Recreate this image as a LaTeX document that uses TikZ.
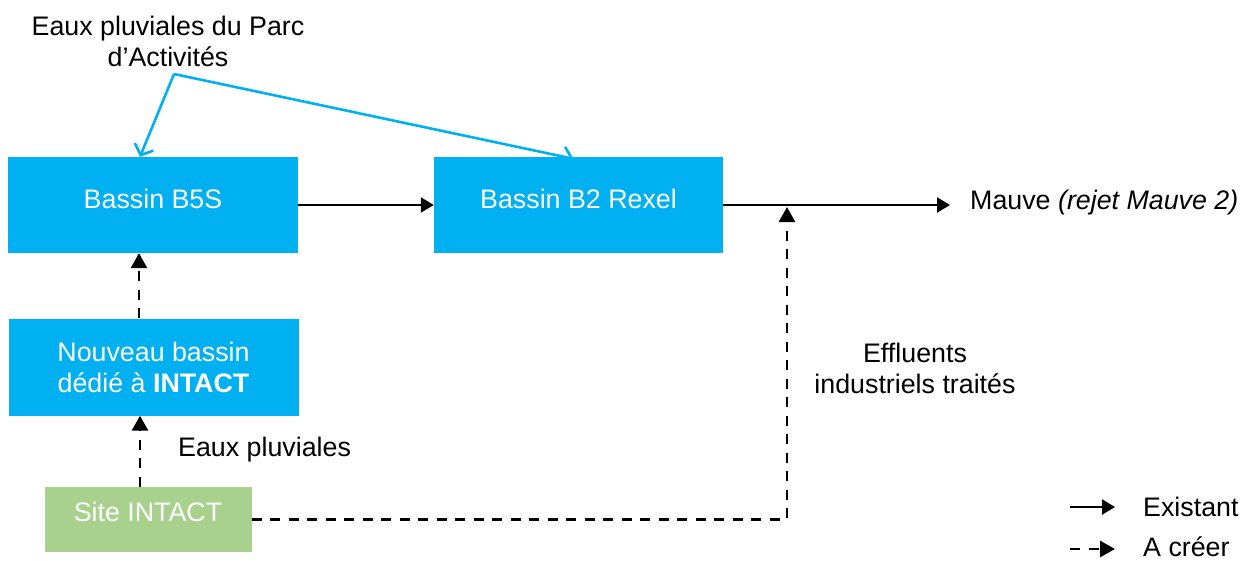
\documentclass[tikz,border=0pt]{standalone}
\usepackage{fontspec}
\setmainfont{Liberation Sans}
\usetikzlibrary{arrows.meta}
\definecolor{bleu}{HTML}{00B0F0}
\definecolor{vert}{HTML}{A9D18E}
\begin{document}
\begin{tikzpicture}[x=1pt,y=-1pt,
  every node/.style={font=\fontsize{26.8}{31}\selectfont, inner sep=0pt},
  bassin/.style={fill=bleu, text=white, align=center, minimum width=290pt, minimum height=96pt},
  site/.style={fill=vert, text=white, minimum width=207pt, minimum height=65pt},
  flow/.style={line width=2.2pt, -{Triangle[length=13pt,width=15pt]}},
  flowdash/.style={line width=2.8pt, dash pattern=on 10pt off 8.5pt, -{Triangle[length=15pt,width=16pt]}},
  pluie/.style={bleu, line width=2.6pt, -{Straight Barb[length=9pt,width=20pt]}},
]
\useasboundingbox (0,0) rectangle (1247,560);
% boxes
\node[bassin, text height=19pt, text depth=12pt] (b5s) at (153,205) {Bassin B5S};
\node[bassin, minimum width=289pt, text height=19pt, text depth=12pt] (b2) at (578.5,205) {Bassin B2 Rexel};
\node[bassin, minimum height=97pt] (nb) at (153.5,367) {Nouveau bassin\\dédié à \textbf{INTACT}};
\node[site, text height=19pt, text depth=15pt] (site) at (148,519.5) {Site INTACT};
% labels
\node[align=center] (parc) at (168,41) {Eaux pluviales du Parc\\d’Activités};
\node[anchor=west] (mauve) at (970,203) {Mauve \textit{(rejet Mauve 2)}};
\node[anchor=west] (ep) at (178,450) {Eaux pluviales};
\node[align=center] (eff) at (915,368) {Effluents\\industriels traités};
\node[anchor=west] (ex) at (1143,507) {Existant};
\node[anchor=west] (ac) at (1143,547) {A créer};
% coordinates
\coordinate (v) at (174,74);
\coordinate (j) at (787,207);
\coordinate (l1) at (1070,507);
\coordinate (l2) at (1070,549);
% connectors
\draw[pluie] (v) -- ([xshift=-13pt]b5s.north);
\draw[pluie] (v) -- ([xshift=-5pt,yshift=-2pt]b2.north);
\draw[flow] (b5s.east) -- (b2.west);
\draw[flow] (b2.east) -- (950,205);
\draw[flowdash] (site.east) -| (j);
\draw[flowdash] ([xshift=-8pt]site.north) -- ([xshift=-13.5pt]nb.south);
\draw[flowdash] ([xshift=-14.5pt]nb.north) -- ([xshift=-14pt]b5s.south);
\draw[flow] (l1) -- ([xshift=-28pt]l1 -| ex.west);
\draw[flowdash] (l2) -- ([xshift=-28pt]l2 -| ac.west);
\end{tikzpicture}
\end{document}
